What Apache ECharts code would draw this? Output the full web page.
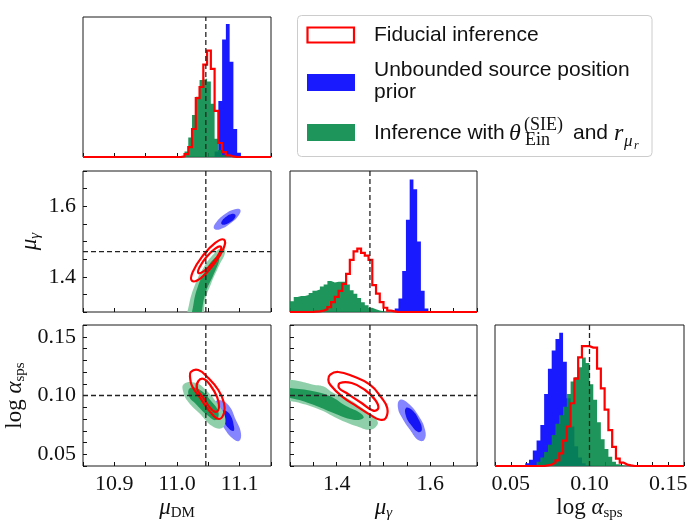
<!DOCTYPE html>
<html>
<head>
<meta charset="utf-8">
<script src="https://cdn.jsdelivr.net/npm/echarts@6/dist/echarts.min.js"></script>
<style>
  html, body { margin: 0; padding: 0; background: #fff; }
  #chart { width: 690px; height: 521px; }
</style>
</head>
<body>
<div id="chart"></div>
<script>
// ---- parameter ranges and reference values ----
const dmRange = [10.85, 11.15];
const gammaRange = [1.3, 1.7];
const alphaRange = [0.04, 0.16];
const truthDm = 11.046;
const truthGamma = 1.471;
const truthAlpha = 0.100;

// labelled ticks on each axis
const dmTickLabels = [10.9, 11.0, 11.1];
const gammaTickLabels = [1.4, 1.6];
const alphaTickLabels = [0.05, 0.10, 0.15];

// ---- 1D marginals: 50 bins over each range, normalised heights ----
const dmBinWidth = 0.006;
const gammaBinWidth = 0.008;
const alphaBinWidth = 0.0024;

const dmHistFiducial = [
  0,0,0,0,0,0,0,0,0,0, 0,0,0,0,0,0,0,0,0,0, 0,0,0,0,0,0,
  0.005,0.02,0.07,0.20,0.42,0.50,0.66,0.76,0.63,0.33,0.10,0.035,0.012,0.004,
  0,0,0,0,0,0,0,0,0,0
];
const dmHistUnbounded = [
  0,0,0,0,0,0,0,0,0,0, 0,0,0,0,0,0,0,0,0,0, 0,0,0,0,0,0,0,0,0,0, 0,0,0,0,0,
  0.04,0.40,0.84,0.95,0.68,0.20,0.03,0.005,
  0,0,0,0,0,0,0
];
const dmHistEinstein = [
  0,0,0,0,0,0,0,0,0,0, 0,0,0,0,0,0,0,0,0,0, 0,0,0,0,0,0,
  0.01,0.04,0.14,0.30,0.43,0.55,0.56,0.54,0.38,0.13,0.05,0.015,0.005,
  0,0,0,0,0,0,0,0,0,0,0
];

const gammaHistFiducial = [
  0,0,0,0,0,0,
  0.003,0.005,0.01,0.02,0.035,0.07,0.107,0.15,0.20,0.27,0.37,0.43,0.45,0.42,0.40,0.37,0.19,0.13,0.07,0.03,0.01,0.004,
  0,0,0,0,0,0,0,0,0,0,0,0,0,0,0,0,0,0,0,0,0,0
];
const gammaHistUnbounded = [
  0,0,0,0,0,0,0,0,0,0, 0,0,0,0,0,0,0,0,0,0, 0,0,0,0,0,0,0,0,
  0.024,0.095,0.29,0.655,0.94,0.87,0.50,0.15,0.024,
  0,0,0,0,0,0,0,0,0,0,0,0,0
];
const gammaHistEinstein = [
  0.076,0.107,0.114,0.114,0.12,0.135,0.15,0.16,0.18,0.195,0.22,0.21,0.214,0.214,0.214,
  0.195,0.155,0.13,0.10,0.07,0.048,0.03,0.02,0.01,0.005,
  0,0,0,0,0,0,0,0,0,0,0,0,0,0,0,0,0,0,0,0,0,0,0,0,0
];

const alphaHistFiducial = [
  0,0,0,0,0,0,0,0,0,0,0,0,0,
  0.004,0.01,0.024,0.04,0.09,0.18,0.28,0.445,0.62,0.77,0.85,0.85,0.84,0.84,0.69,0.55,0.40,0.255,0.136,0.052,0.024,0.01,0.004,
  0,0,0,0,0,0,0,0,0,0,0,0,0,0
];
const alphaHistUnbounded = [
  0,0,0,0,0,0,0,0,
  0.02,0.045,0.11,0.18,0.29,0.51,0.69,0.82,0.90,0.945,0.74,0.48,0.28,0.14,0.06,0.02,0.005,
  0,0,0,0,0,0,0,0,0,0,0,0,0,0,0,0,0,0,0,0,0,0,0,0,0
];
const alphaHistEinstein = [
  0,0,0,0,0,0,0,0,0,0,0,
  0.03,0.06,0.10,0.15,0.22,0.30,0.36,0.42,0.51,0.60,0.63,0.70,0.77,0.73,0.58,0.47,0.31,0.19,0.12,0.065,0.03,0.012,0.004,
  0,0,0,0,0,0,0,0,0,0,0,0,0,0,0,0
];

// ---- 2D credible regions (outer = 95%, inner = 68%), vertices in parameter units ----
// (mu_DM, mu_gamma)
const dmGammaUnboundedOuter = [[11.101,1.590],[11.098,1.573],[11.085,1.551],[11.069,1.535],[11.059,1.537],[11.062,1.553],[11.075,1.576],[11.091,1.591]];
const dmGammaUnboundedInner = [[11.093,1.576],[11.092,1.566],[11.085,1.555],[11.077,1.548],[11.071,1.550],[11.072,1.559],[11.079,1.571],[11.087,1.578]];
const dmGammaEinsteinOuter = [[11.014,1.248],[11.019,1.319],[11.029,1.379],[11.043,1.428],[11.059,1.465],[11.072,1.482],[11.077,1.471],[11.067,1.431],[11.054,1.379],[11.045,1.333],[11.038,1.248]];
const dmGammaEinsteinInner = [[11.022,1.248],[11.026,1.319],[11.034,1.376],[11.046,1.419],[11.059,1.451],[11.066,1.456],[11.067,1.445],[11.058,1.405],[11.046,1.356],[11.040,1.305],[11.037,1.248]];
const dmGammaFiducialOuter = [[11.075,1.505],[11.074,1.479],[11.058,1.434],[11.038,1.396],[11.024,1.388],[11.025,1.413],[11.041,1.459],[11.061,1.496]];
const dmGammaFiducialInner = [[11.070,1.485],[11.068,1.468],[11.057,1.439],[11.043,1.416],[11.034,1.411],[11.036,1.427],[11.047,1.456],[11.061,1.480]];

// (mu_DM, log alpha_sps)
const dmAlphaUnboundedOuter = [[11.066,0.0962],[11.082,0.0919],[11.094,0.0791],[11.102,0.0681],[11.099,0.0613],[11.088,0.0638],[11.075,0.0723],[11.064,0.0826],[11.059,0.0919]];
const dmAlphaUnboundedInner = [[11.075,0.0877],[11.085,0.0834],[11.091,0.0732],[11.090,0.0698],[11.082,0.0723],[11.074,0.0791],[11.072,0.0851]];
const dmAlphaEinsteinOuter = [[11.011,0.1098],[11.030,0.1106],[11.046,0.1047],[11.066,0.0919],[11.077,0.0809],[11.072,0.0723],[11.056,0.0740],[11.037,0.0843],[11.018,0.0945],[11.010,0.1030]];
const dmAlphaEinsteinInner = [[11.021,0.1064],[11.037,0.1047],[11.053,0.0962],[11.066,0.0860],[11.062,0.0791],[11.048,0.0834],[11.030,0.0928],[11.019,0.0996]];
const dmAlphaFiducialOuter = [[11.022,0.1200],[11.034,0.1217],[11.050,0.1149],[11.066,0.1047],[11.075,0.0936],[11.075,0.0851],[11.067,0.0800],[11.053,0.0860],[11.037,0.0979],[11.024,0.1081],[11.021,0.1149]];
const dmAlphaFiducialInner = [[11.034,0.1123],[11.043,0.1140],[11.054,0.1081],[11.064,0.0987],[11.067,0.0902],[11.062,0.0860],[11.053,0.0894],[11.042,0.0979],[11.032,0.1055]];

// (mu_gamma, log alpha_sps)
const gammaAlphaUnboundedOuter = [[1.535,0.0962],[1.552,0.0936],[1.574,0.0834],[1.589,0.0706],[1.587,0.0621],[1.574,0.0621],[1.557,0.0706],[1.540,0.0809],[1.531,0.0894]];
const gammaAlphaUnboundedInner = [[1.548,0.0894],[1.561,0.0877],[1.576,0.0791],[1.582,0.0706],[1.574,0.0689],[1.559,0.0749],[1.548,0.0826]];
const gammaAlphaEinsteinOuter = [[1.268,0.1140],[1.300,0.1134],[1.321,0.1121],[1.350,0.1092],[1.371,0.1078],[1.393,0.1021],[1.421,0.0979],[1.464,0.0866],[1.485,0.0794],[1.487,0.0751],[1.471,0.0709],[1.443,0.0738],[1.407,0.0794],[1.364,0.0879],[1.321,0.0936],[1.300,0.0951],[1.268,0.0962]];
const gammaAlphaEinsteinInner = [[1.268,0.1072],[1.300,0.1064],[1.350,0.1036],[1.386,0.0993],[1.421,0.0908],[1.450,0.0851],[1.457,0.0809],[1.435,0.0794],[1.393,0.0851],[1.350,0.0922],[1.300,0.0979],[1.268,0.0987]];
const gammaAlphaFiducialOuter = [[1.386,0.1177],[1.403,0.1200],[1.435,0.1163],[1.471,0.1092],[1.496,0.0979],[1.508,0.0894],[1.505,0.0809],[1.493,0.0794],[1.471,0.0837],[1.443,0.0908],[1.411,0.0993],[1.386,0.1092],[1.382,0.1134]];
const gammaAlphaFiducialInner = [[1.407,0.1106],[1.432,0.1106],[1.460,0.1049],[1.482,0.0964],[1.489,0.0894],[1.478,0.0871],[1.453,0.0936],[1.421,0.1021],[1.405,0.1064]];

// ---- styling ----
const ink = '#111';
const serif = 'Liberation Serif';
const sans = 'Liberation Sans';
const red = '#ff0000';
const blueHist = '#1a1aff';
const blueDark = '#1515f5';
const blueLight = '#8585ff';
const greenHist = 'rgba(5,138,72,0.9)';
const greenDark = '#1f9858';
const greenLight = '#8fd0aa';

const chart = echarts.init(document.getElementById('chart'), null, { renderer: 'canvas' });

// panel layout of the triangle
const grids = [
  { left: 83,  top: 17,  width: 188, height: 140 },  // mu_DM marginal
  { left: 83,  top: 171, width: 188, height: 141 },  // mu_DM vs mu_gamma
  { left: 290, top: 171, width: 187, height: 141 },  // mu_gamma marginal
  { left: 83,  top: 325, width: 188, height: 141 },  // mu_DM vs log alpha
  { left: 290, top: 325, width: 187, height: 141 },  // mu_gamma vs log alpha
  { left: 495, top: 325, width: 189, height: 141 }   // log alpha marginal
].map(g => Object.assign({ show: true, borderColor: '#1a1a1a', borderWidth: 1, backgroundColor: 'transparent', containLabel: false, outerBoundsMode: 'none' }, g));

const nameRich = {
  m:  { fontFamily: serif, fontStyle: 'italic', fontSize: 23, color: ink },
  r:  { fontFamily: serif, fontSize: 23, color: ink },
  s:  { fontFamily: serif, fontSize: 15, color: ink, padding: [12, 0, 0, 0] },
  si: { fontFamily: serif, fontStyle: 'italic', fontSize: 15, color: ink, padding: [12, 0, 0, 0] }
};

function hasLabel(list, v) {
  return list.some(t => Math.abs(t - v) < 1e-7);
}

function paramAxis(gridIndex, range, interval, labels, digits, showLabels, extra) {
  return Object.assign({
    type: 'value', gridIndex, min: range[0], max: range[1], interval,
    axisLine: { show: false },
    splitLine: { show: false },
    axisTick: { show: true, inside: true, length: 4, interval: 0, lineStyle: { color: ink, width: 1 } },
    axisLabel: {
      show: showLabels, interval: 0, margin: 7, hideOverlap: false,
      showMinLabel: true, showMaxLabel: true,
      fontFamily: serif, fontSize: 22, color: ink,
      formatter: v => hasLabel(labels, v) ? v.toFixed(digits) : ''
    }
  }, extra || {});
}

function densityAxis(gridIndex) {
  return { type: 'value', gridIndex, min: 0, max: 1, show: false };
}

const xAxes = [
  paramAxis(0, dmRange, 0.05, dmTickLabels, 1, false),
  paramAxis(1, dmRange, 0.05, dmTickLabels, 1, false),
  paramAxis(2, gammaRange, 0.05, gammaTickLabels, 1, false),
  paramAxis(3, dmRange, 0.05, dmTickLabels, 1, true, {
    name: '{m|μ}{s|DM}', nameLocation: 'middle', nameGap: 28, nameTextStyle: { rich: nameRich }
  }),
  paramAxis(4, gammaRange, 0.05, gammaTickLabels, 1, true, {
    name: '{m|μ}{si|γ}', nameLocation: 'middle', nameGap: 28, nameTextStyle: { rich: nameRich }
  }),
  paramAxis(5, alphaRange, 0.01, alphaTickLabels, 2, true, {
    name: '{r|log }{m|α}{s|sps}', nameLocation: 'middle', nameGap: 28, nameTextStyle: { rich: nameRich }
  })
];

const yAxes = [
  densityAxis(0),
  paramAxis(1, gammaRange, 0.05, gammaTickLabels, 1, true, {
    name: '{m|μ}{si|γ}', nameLocation: 'middle', nameGap: 40, nameRotate: 90, nameTextStyle: { rich: nameRich }
  }),
  densityAxis(2),
  paramAxis(3, alphaRange, 0.01, alphaTickLabels, 2, true, {
    name: '{r|log }{m|α}{s|sps}', nameLocation: 'middle', nameGap: 55, nameRotate: 90, nameTextStyle: { rich: nameRich }
  }),
  paramAxis(4, alphaRange, 0.01, alphaTickLabels, 2, false),
  densityAxis(5)
];

// bin k spans [lo + k*w, lo + (k+1)*w]; a step path through the left edges plus the closing edge
function stepData(lo, width, heights) {
  const pts = heights.map((h, k) => [lo + k * width, h]);
  pts.push([lo + heights.length * width, heights[heights.length - 1]]);
  return pts;
}

function filledHist(axis, lo, width, heights, color, z) {
  return {
    type: 'line', xAxisIndex: axis, yAxisIndex: axis, step: 'end', symbol: 'none',
    data: stepData(lo, width, heights), silent: true, animation: false, z,
    lineStyle: { width: 0, color }, areaStyle: { color, opacity: 1 }
  };
}

function outlineHist(axis, lo, width, heights, color, z) {
  return {
    type: 'line', xAxisIndex: axis, yAxisIndex: axis, step: 'end', symbol: 'none',
    data: stepData(lo, width, heights), silent: true, animation: false, z,
    lineStyle: { width: 2.2, color, join: 'miter' }
  };
}

function region(axis, poly, fill, stroke, z) {
  return {
    type: 'custom', coordinateSystem: 'cartesian2d', xAxisIndex: axis, yAxisIndex: axis,
    data: poly, encode: { x: 0, y: 1 }, clip: true, silent: true, animation: false, z,
    renderItem: (params, api) => {
      if (params.dataIndex !== 0) return null;
      const pts = poly.map(p => api.coord(p));
      return {
        type: 'polygon',
        shape: { points: pts, smooth: 0.45 },
        style: fill ? { fill: fill, stroke: null } : { fill: null, stroke: stroke, lineWidth: 2.2 }
      };
    }
  };
}

function dashed(axis, a, b, z) {
  return {
    type: 'line', xAxisIndex: axis, yAxisIndex: axis, symbol: 'none', data: [a, b],
    silent: true, animation: false, z: z || 20,
    lineStyle: { color: '#222', width: 1.3, type: [5, 3] }
  };
}

const series = [
  // mu_DM marginal
  filledHist(0, dmRange[0], dmBinWidth, dmHistUnbounded, blueHist, 2),
  filledHist(0, dmRange[0], dmBinWidth, dmHistEinstein, greenHist, 3),
  outlineHist(0, dmRange[0], dmBinWidth, dmHistFiducial, red, 4),
  dashed(0, [truthDm, 0], [truthDm, 1]),

  // mu_DM vs mu_gamma
  region(1, dmGammaUnboundedOuter, blueLight, null, 2),
  region(1, dmGammaUnboundedInner, blueDark, null, 3),
  region(1, dmGammaEinsteinOuter, greenLight, null, 4),
  region(1, dmGammaEinsteinInner, greenDark, null, 5),
  region(1, dmGammaFiducialOuter, null, red, 6),
  region(1, dmGammaFiducialInner, null, red, 6),
  dashed(1, [truthDm, gammaRange[0]], [truthDm, gammaRange[1]]),
  dashed(1, [dmRange[0], truthGamma], [dmRange[1], truthGamma]),

  // mu_gamma marginal
  filledHist(2, gammaRange[0], gammaBinWidth, gammaHistUnbounded, blueHist, 2),
  filledHist(2, gammaRange[0], gammaBinWidth, gammaHistEinstein, greenHist, 3),
  outlineHist(2, gammaRange[0], gammaBinWidth, gammaHistFiducial, red, 4),
  dashed(2, [truthGamma, 0], [truthGamma, 1]),

  // mu_DM vs log alpha
  region(3, dmAlphaUnboundedOuter, blueLight, null, 2),
  region(3, dmAlphaUnboundedInner, blueDark, null, 3),
  region(3, dmAlphaEinsteinOuter, greenLight, null, 4),
  region(3, dmAlphaEinsteinInner, greenDark, null, 5),
  region(3, dmAlphaFiducialOuter, null, red, 6),
  region(3, dmAlphaFiducialInner, null, red, 6),
  dashed(3, [truthDm, alphaRange[0]], [truthDm, alphaRange[1]]),
  dashed(3, [dmRange[0], truthAlpha], [dmRange[1], truthAlpha]),

  // mu_gamma vs log alpha
  region(4, gammaAlphaUnboundedOuter, blueLight, null, 2),
  region(4, gammaAlphaUnboundedInner, blueDark, null, 3),
  region(4, gammaAlphaEinsteinOuter, greenLight, null, 4),
  region(4, gammaAlphaEinsteinInner, greenDark, null, 5),
  region(4, gammaAlphaFiducialOuter, null, red, 6),
  region(4, gammaAlphaFiducialInner, null, red, 6),
  dashed(4, [truthGamma, alphaRange[0]], [truthGamma, alphaRange[1]]),
  dashed(4, [gammaRange[0], truthAlpha], [gammaRange[1], truthAlpha]),

  // log alpha marginal
  filledHist(5, alphaRange[0], alphaBinWidth, alphaHistUnbounded, blueHist, 2),
  filledHist(5, alphaRange[0], alphaBinWidth, alphaHistEinstein, greenHist, 3),
  outlineHist(5, alphaRange[0], alphaBinWidth, alphaHistFiducial, red, 4),
  dashed(5, [truthAlpha, 0], [truthAlpha, 1])
];

// legend box in the empty upper-right corner
const legendFont = { fontFamily: sans, fontSize: 21, fill: ink };
const mathText = (text, x, y, size, italic) => ({
  type: 'text', x, y,
  style: { text, verticalAlign: 'middle', fontFamily: serif, fontStyle: italic ? 'italic' : 'normal', fontSize: size, fill: ink }
});
const legend = {
  type: 'group',
  children: [
    { type: 'rect', shape: { x: 297.5, y: 15.5, width: 354.5, height: 141, r: 4 },
      style: { fill: '#fff', stroke: '#cccccc', lineWidth: 1 } },
    { type: 'rect', shape: { x: 307.5, y: 27.5, width: 46.5, height: 15 },
      style: { fill: '#fff', stroke: red, lineWidth: 2.2 } },
    { type: 'rect', shape: { x: 307, y: 74, width: 48, height: 17 }, style: { fill: blueHist } },
    { type: 'rect', shape: { x: 307, y: 124, width: 48, height: 17 }, style: { fill: greenHist } },
    { type: 'text', x: 374, y: 35, style: Object.assign({ text: 'Fiducial inference', verticalAlign: 'middle' }, legendFont) },
    { type: 'text', x: 374, y: 70, style: Object.assign({ text: 'Unbounded source position', verticalAlign: 'middle' }, legendFont) },
    { type: 'text', x: 374, y: 92, style: Object.assign({ text: 'prior', verticalAlign: 'middle' }, legendFont) },
    { type: 'text', x: 374, y: 133, style: Object.assign({ text: 'Inference with', verticalAlign: 'middle' }, legendFont) },
    mathText('θ', 509, 134, 24, true),
    mathText('(SIE)', 524, 125, 18, false),
    mathText('Ein', 525, 140, 18, false),
    { type: 'text', x: 573, y: 133, style: Object.assign({ text: 'and', verticalAlign: 'middle' }, legendFont) },
    mathText('r', 614, 134, 24, true),
    mathText('μ', 624, 142, 17, true),
    mathText('r', 634, 146, 12, true)
  ]
};

chart.setOption({
  animation: false,
  backgroundColor: '#fff',
  grid: grids,
  xAxis: xAxes,
  yAxis: yAxes,
  series: series,
  graphic: [legend]
});
</script>
</body>
</html>
